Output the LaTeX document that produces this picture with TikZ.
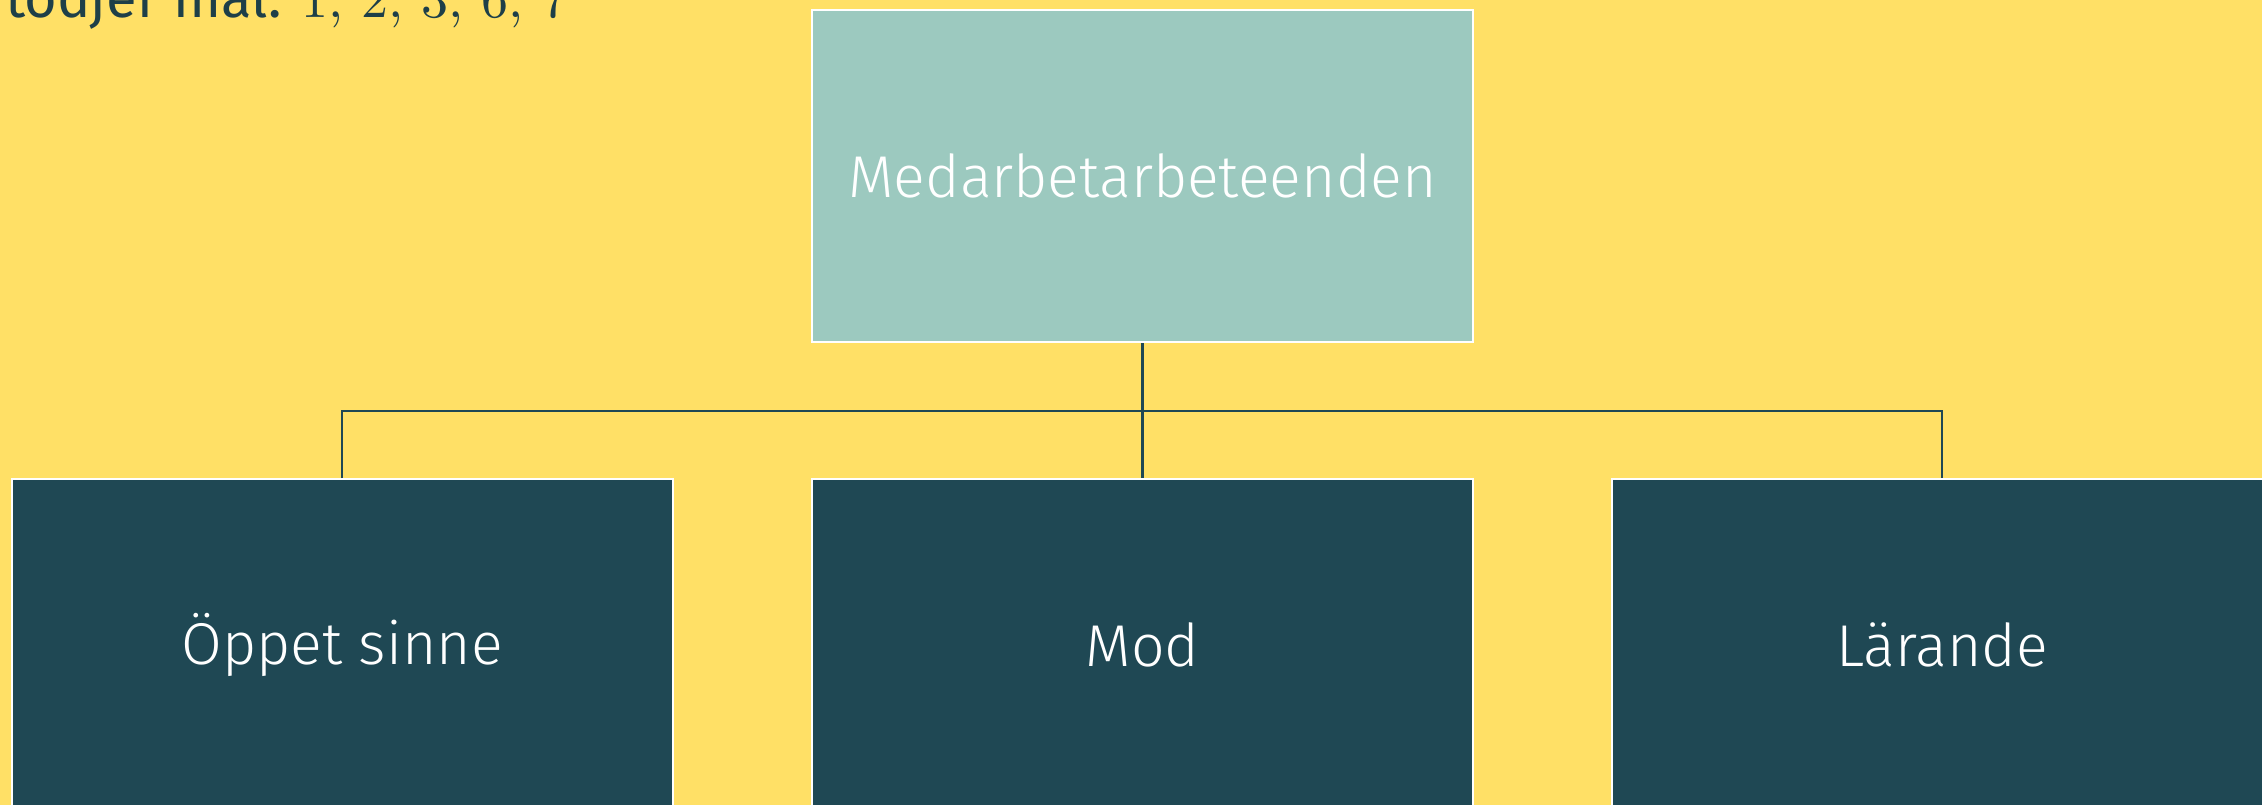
\documentclass[tikz,border=0pt]{standalone}
\usepackage{fontspec}
\setmainfont{Fira Sans Light}
\newfontfamily\headfont{Fira Sans}
\newfontfamily\numfont{lmroman10-regular.otf}
\definecolor{bgyellow}{HTML}{FFE066}
\definecolor{topteal}{HTML}{9CC9BF}
\definecolor{darkteal}{HTML}{1F4854}
\definecolor{titletext}{HTML}{1E3F48}
\tikzset{
  box/.style={rectangle, draw=white, line width=2pt, minimum width=661pt, minimum height=332pt, inner sep=0pt, text=white, font=\fontsize{59}{64}\selectfont},
  topbox/.style={box, fill=topteal},
  lowbox/.style={box, fill=darkteal},
  link/.style={draw=darkteal, line width=2.2pt},
  heading/.style={anchor=base west, inner sep=0pt, text=titletext, font=\headfont\fontsize{56}{62}\selectfont}
}
\begin{document}
\begin{tikzpicture}[x=1pt,y=-1pt]
\useasboundingbox (0,0) rectangle (2262,805);
\fill[bgyellow] (0,0) rectangle (2262,805);
\node[heading] (head) at (5,18) {tödjer mål: {\numfont\fontsize{54}{60}\selectfont 1, 2, 3, 6, 7}};
\coordinate (bar) at (1142.5,411);
\node[topbox] (top) at (1142.5,176) {Medarbetarbeteenden};
\node[lowbox] (opp) at (342,645) {Öppet sinne};
\node[lowbox] (mod) at (1142.5,645) {Mod};
\node[lowbox] (lar) at (1942,645) {Lärande};
\draw[link] (top.south) -- (mod.north);
\draw[link] (opp.north) -- (opp.north |- bar) -- (lar.north |- bar) -- (lar.north);
\end{tikzpicture}
\end{document}
